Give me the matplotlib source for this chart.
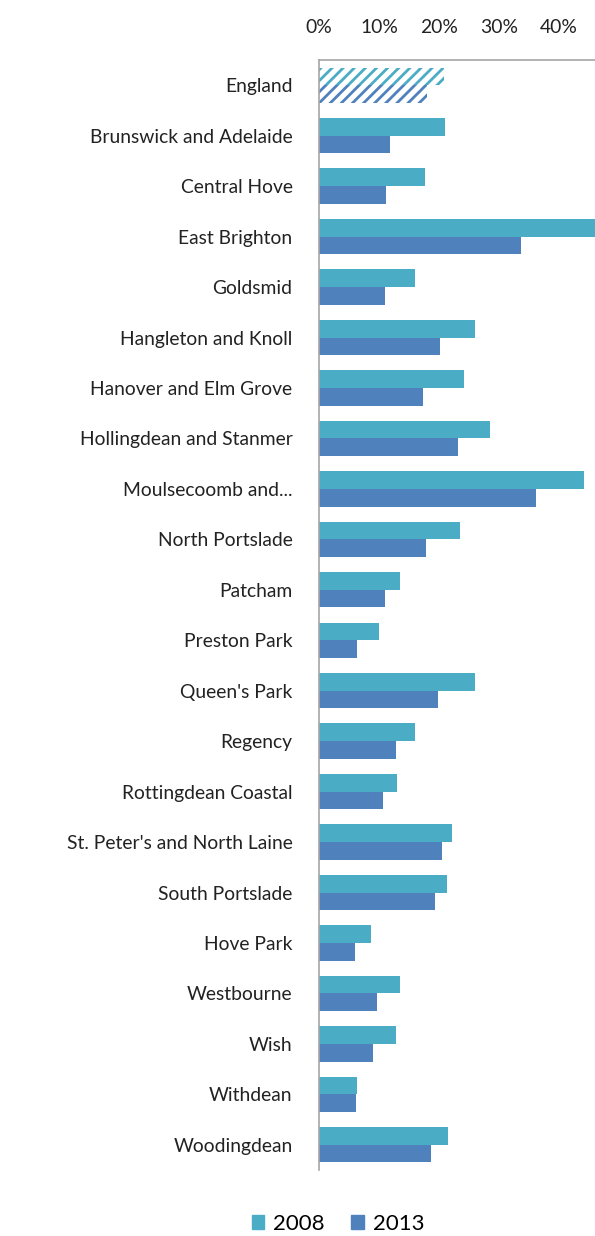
import matplotlib
matplotlib.use("Agg")
import matplotlib.pyplot as plt
from matplotlib.ticker import PercentFormatter
import numpy as np

plt.rcParams["font.family"] = ["Lato", "DejaVu Sans"]
plt.rcParams["hatch.linewidth"] = 2.0

# Wards (top to bottom)
wards = [
    "England", "Brunswick and Adelaide", "Central Hove", "East Brighton",
    "Goldsmid", "Hangleton and Knoll", "Hanover and Elm Grove",
    "Hollingdean and Stanmer", "Moulsecoomb and...", "North Portslade",
    "Patcham", "Preston Park", "Queen's Park", "Regency",
    "Rottingdean Coastal", "St. Peter's and North Laine", "South Portslade",
    "Hove Park", "Westbourne", "Wish", "Withdean", "Woodingdean",
]
vals_2008 = [20.8, 21.0, 17.7, 48.0, 16.0, 26.0, 24.2, 28.5, 44.2, 23.5,
             13.5, 10.0, 26.0, 16.0, 13.0, 22.2, 21.3, 8.7, 13.5, 12.8, 6.3, 21.5]
vals_2013 = [18.0, 11.8, 11.2, 33.7, 11.0, 20.2, 17.3, 23.2, 36.2, 17.8,
             11.0, 6.3, 19.8, 12.8, 10.7, 20.5, 19.3, 6.0, 9.7, 9.0, 6.2, 18.7]

c2008 = "#4BACC6"
c2013 = "#4F81BD"

fig = plt.figure(figsize=(5.95, 12.36), dpi=100)
ax = fig.add_axes([319 / 595, 1 - 1170 / 1236, 1 - 319 / 595, (1170 - 60) / 1236])

y = np.arange(len(wards))
h = 0.35
for i in range(len(wards)):
    if i == 0:
        # England average shown hatched
        ax.barh(y[i] - h / 2, vals_2008[i], height=h, fill=False, hatch="///",
                edgecolor=c2008, linewidth=0)
        ax.barh(y[i] + h / 2, vals_2013[i], height=h, fill=False, hatch="///",
                edgecolor=c2013, linewidth=0)
    else:
        ax.barh(y[i] - h / 2, vals_2008[i], height=h, color=c2008)
        ax.barh(y[i] + h / 2, vals_2013[i], height=h, color=c2013)

ax.set_ylim(len(wards) - 0.5, -0.5)
ax.set_xlim(0, (595 - 319) / 6.0)
ax.set_xticks([0, 10, 20, 30, 40])
ax.xaxis.set_major_formatter(PercentFormatter(decimals=0))
ax.xaxis.tick_top()
ax.set_yticks(y)
ax.set_yticklabels(wards)
ax.tick_params(axis="both", length=0, labelsize=13.9, colors="#222222")
ax.tick_params(axis="x", pad=17)
ax.tick_params(axis="y", pad=19)

for s in ["right", "bottom"]:
    ax.spines[s].set_visible(False)
for s in ["top", "left"]:
    ax.spines[s].set_color("#A6A6A6")
    ax.spines[s].set_linewidth(1.2)

handles = [plt.Rectangle((0, 0), 1, 1, color=c2008), plt.Rectangle((0, 0), 1, 1, color=c2013)]
fig.legend(handles, ["2008", "2013"], loc="center", ncol=2, frameon=False,
           bbox_to_anchor=(338 / 595, 1 - 1224 / 1236), fontsize=16,
           handlelength=0.55, handleheight=0.55, handletextpad=0.4, columnspacing=1.2)

fig.savefig("out.png", dpi=100)
